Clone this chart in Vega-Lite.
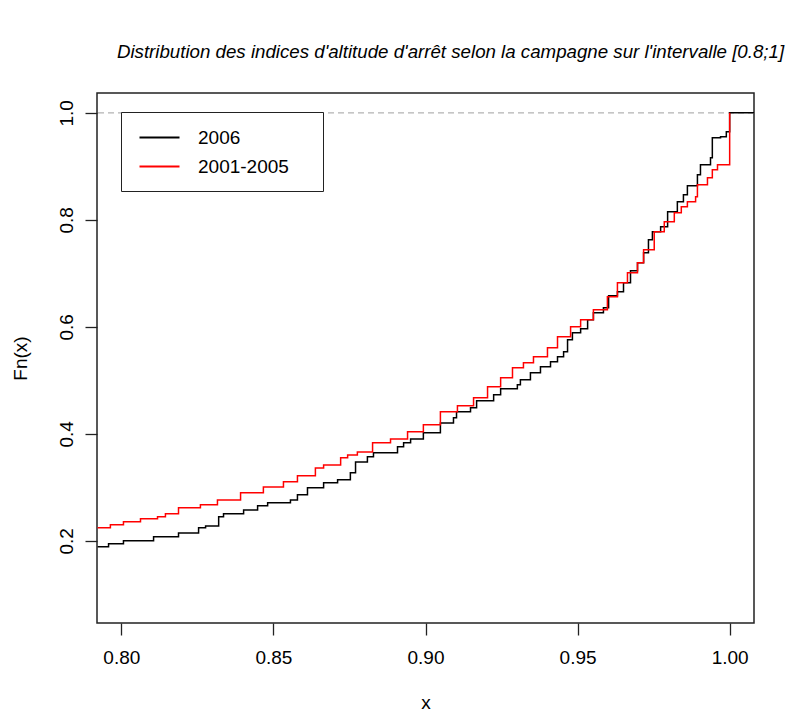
{
  "$schema": "https://vega.github.io/schema/vega-lite/v6.json",
  "width": 657,
  "height": 530,
  "autosize": {"type": "none"},
  "padding": {"left": 97, "top": 93, "right": 36, "bottom": 88},
  "background": "white",
  "title": {
    "text": "Distribution des indices d'altitude d'arrêt selon la campagne sur l'intervalle [0.8;1]",
    "font": "Liberation Sans",
    "fontSize": 18.7,
    "fontStyle": "italic",
    "fontWeight": "normal",
    "color": "black",
    "anchor": "middle",
    "baseline": "alphabetic",
    "offset": 16,
    "dx": 25
  },
  "datasets": {
    "ecdf": [
      {"series": "2006", "x": 0.7922, "Fn": 0.1888},
      {"series": "2006", "x": 0.7958, "Fn": 0.1944},
      {"series": "2006", "x": 0.8007, "Fn": 0.2000},
      {"series": "2006", "x": 0.8106, "Fn": 0.2075},
      {"series": "2006", "x": 0.8188, "Fn": 0.2149},
      {"series": "2006", "x": 0.8254, "Fn": 0.2243},
      {"series": "2006", "x": 0.8277, "Fn": 0.2280},
      {"series": "2006", "x": 0.8320, "Fn": 0.2449},
      {"series": "2006", "x": 0.8336, "Fn": 0.2505},
      {"series": "2006", "x": 0.8402, "Fn": 0.2579},
      {"series": "2006", "x": 0.8448, "Fn": 0.2654},
      {"series": "2006", "x": 0.8481, "Fn": 0.2710},
      {"series": "2006", "x": 0.8556, "Fn": 0.2766},
      {"series": "2006", "x": 0.8579, "Fn": 0.2860},
      {"series": "2006", "x": 0.8612, "Fn": 0.2991},
      {"series": "2006", "x": 0.8665, "Fn": 0.3084},
      {"series": "2006", "x": 0.8711, "Fn": 0.3140},
      {"series": "2006", "x": 0.8753, "Fn": 0.3271},
      {"series": "2006", "x": 0.8770, "Fn": 0.3476},
      {"series": "2006", "x": 0.8809, "Fn": 0.3570},
      {"series": "2006", "x": 0.8829, "Fn": 0.3645},
      {"series": "2006", "x": 0.8908, "Fn": 0.3757},
      {"series": "2006", "x": 0.8928, "Fn": 0.3832},
      {"series": "2006", "x": 0.8951, "Fn": 0.3906},
      {"series": "2006", "x": 0.8993, "Fn": 0.4019},
      {"series": "2006", "x": 0.9049, "Fn": 0.4205},
      {"series": "2006", "x": 0.9092, "Fn": 0.4299},
      {"series": "2006", "x": 0.9102, "Fn": 0.4411},
      {"series": "2006", "x": 0.9148, "Fn": 0.4486},
      {"series": "2006", "x": 0.9168, "Fn": 0.4617},
      {"series": "2006", "x": 0.9224, "Fn": 0.4729},
      {"series": "2006", "x": 0.9247, "Fn": 0.4841},
      {"series": "2006", "x": 0.9302, "Fn": 0.4916},
      {"series": "2006", "x": 0.9312, "Fn": 0.5009},
      {"series": "2006", "x": 0.9345, "Fn": 0.5140},
      {"series": "2006", "x": 0.9378, "Fn": 0.5252},
      {"series": "2006", "x": 0.9411, "Fn": 0.5346},
      {"series": "2006", "x": 0.9434, "Fn": 0.5439},
      {"series": "2006", "x": 0.9454, "Fn": 0.5533},
      {"series": "2006", "x": 0.9467, "Fn": 0.5757},
      {"series": "2006", "x": 0.9483, "Fn": 0.5888},
      {"series": "2006", "x": 0.9510, "Fn": 0.5963},
      {"series": "2006", "x": 0.9533, "Fn": 0.6131},
      {"series": "2006", "x": 0.9552, "Fn": 0.6262},
      {"series": "2006", "x": 0.9585, "Fn": 0.6355},
      {"series": "2006", "x": 0.9602, "Fn": 0.6579},
      {"series": "2006", "x": 0.9631, "Fn": 0.6654},
      {"series": "2006", "x": 0.9651, "Fn": 0.6822},
      {"series": "2006", "x": 0.9674, "Fn": 0.7047},
      {"series": "2006", "x": 0.9697, "Fn": 0.7196},
      {"series": "2006", "x": 0.9717, "Fn": 0.7383},
      {"series": "2006", "x": 0.9733, "Fn": 0.7626},
      {"series": "2006", "x": 0.9746, "Fn": 0.7776},
      {"series": "2006", "x": 0.9773, "Fn": 0.7869},
      {"series": "2006", "x": 0.9796, "Fn": 0.8149},
      {"series": "2006", "x": 0.9828, "Fn": 0.8336},
      {"series": "2006", "x": 0.9848, "Fn": 0.8467},
      {"series": "2006", "x": 0.9861, "Fn": 0.8635},
      {"series": "2006", "x": 0.9894, "Fn": 0.8841},
      {"series": "2006", "x": 0.9904, "Fn": 0.9028},
      {"series": "2006", "x": 0.9937, "Fn": 0.9159},
      {"series": "2006", "x": 0.9943, "Fn": 0.9533},
      {"series": "2006", "x": 0.9970, "Fn": 0.9551},
      {"series": "2006", "x": 0.9989, "Fn": 0.9645},
      {"series": "2006", "x": 1.0000, "Fn": 1.0},
      {"series": "2006", "x": 1.0080, "Fn": 1.0},
      {"series": "2001-2005", "x": 0.7922, "Fn": 0.2243},
      {"series": "2001-2005", "x": 0.7964, "Fn": 0.2299},
      {"series": "2001-2005", "x": 0.8007, "Fn": 0.2355},
      {"series": "2001-2005", "x": 0.8063, "Fn": 0.2411},
      {"series": "2001-2005", "x": 0.8119, "Fn": 0.2449},
      {"series": "2001-2005", "x": 0.8145, "Fn": 0.2505},
      {"series": "2001-2005", "x": 0.8188, "Fn": 0.2617},
      {"series": "2001-2005", "x": 0.8260, "Fn": 0.2673},
      {"series": "2001-2005", "x": 0.8316, "Fn": 0.2766},
      {"series": "2001-2005", "x": 0.8392, "Fn": 0.2897},
      {"series": "2001-2005", "x": 0.8467, "Fn": 0.3009},
      {"series": "2001-2005", "x": 0.8533, "Fn": 0.3103},
      {"series": "2001-2005", "x": 0.8579, "Fn": 0.3215},
      {"series": "2001-2005", "x": 0.8638, "Fn": 0.3364},
      {"series": "2001-2005", "x": 0.8665, "Fn": 0.3420},
      {"series": "2001-2005", "x": 0.8721, "Fn": 0.3551},
      {"series": "2001-2005", "x": 0.8744, "Fn": 0.3607},
      {"series": "2001-2005", "x": 0.8776, "Fn": 0.3663},
      {"series": "2001-2005", "x": 0.8826, "Fn": 0.3832},
      {"series": "2001-2005", "x": 0.8885, "Fn": 0.3906},
      {"series": "2001-2005", "x": 0.8941, "Fn": 0.4037},
      {"series": "2001-2005", "x": 0.8993, "Fn": 0.4168},
      {"series": "2001-2005", "x": 0.9049, "Fn": 0.4411},
      {"series": "2001-2005", "x": 0.9105, "Fn": 0.4523},
      {"series": "2001-2005", "x": 0.9158, "Fn": 0.4673},
      {"series": "2001-2005", "x": 0.9204, "Fn": 0.4878},
      {"series": "2001-2005", "x": 0.9247, "Fn": 0.5047},
      {"series": "2001-2005", "x": 0.9286, "Fn": 0.5234},
      {"series": "2001-2005", "x": 0.9322, "Fn": 0.5327},
      {"series": "2001-2005", "x": 0.9355, "Fn": 0.5439},
      {"series": "2001-2005", "x": 0.9401, "Fn": 0.5607},
      {"series": "2001-2005", "x": 0.9434, "Fn": 0.5813},
      {"series": "2001-2005", "x": 0.9477, "Fn": 0.6000},
      {"series": "2001-2005", "x": 0.9510, "Fn": 0.6131},
      {"series": "2001-2005", "x": 0.9552, "Fn": 0.6318},
      {"series": "2001-2005", "x": 0.9598, "Fn": 0.6561},
      {"series": "2001-2005", "x": 0.9631, "Fn": 0.6822},
      {"series": "2001-2005", "x": 0.9664, "Fn": 0.7009},
      {"series": "2001-2005", "x": 0.9697, "Fn": 0.7196},
      {"series": "2001-2005", "x": 0.9717, "Fn": 0.7439},
      {"series": "2001-2005", "x": 0.9752, "Fn": 0.7776},
      {"series": "2001-2005", "x": 0.9785, "Fn": 0.7963},
      {"series": "2001-2005", "x": 0.9818, "Fn": 0.8131},
      {"series": "2001-2005", "x": 0.9841, "Fn": 0.8243},
      {"series": "2001-2005", "x": 0.9861, "Fn": 0.8336},
      {"series": "2001-2005", "x": 0.9888, "Fn": 0.8430},
      {"series": "2001-2005", "x": 0.9894, "Fn": 0.8654},
      {"series": "2001-2005", "x": 0.9927, "Fn": 0.8785},
      {"series": "2001-2005", "x": 0.9943, "Fn": 0.8935},
      {"series": "2001-2005", "x": 0.9960, "Fn": 0.9028},
      {"series": "2001-2005", "x": 1.0000, "Fn": 1.0}
    ],
    "hline": [{"y": 1}]
  },
  "layer": [
    {
      "data": {"name": "hline"},
      "mark": {"type": "rule", "color": "#b3b3b3", "strokeWidth": 1.2, "strokeDash": [6, 4]},
      "encoding": {"y": {"field": "y", "type": "quantitative"}}
    },
    {
      "data": {"name": "ecdf"},
      "transform": [{"filter": "datum.series === '2006'"}],
      "mark": {"type": "line", "interpolate": "step-after", "strokeWidth": 1.5, "clip": true},
      "encoding": {
        "x": {
          "field": "x", "type": "quantitative",
          "scale": {"domain": [0.792, 1.008], "zero": false, "nice": false},
          "axis": {"title": "x", "values": [0.8, 0.85, 0.9, 0.95, 1.0], "format": ".2f", "labelPadding": 13, "titlePadding": 26}
        },
        "y": {
          "field": "Fn", "type": "quantitative",
          "scale": {"domain": [0.0465, 1.037], "zero": false, "nice": false},
          "axis": {"title": "Fn(x)", "values": [0.2, 0.4, 0.6, 0.8, 1.0], "format": ".1f", "labelAngle": -90, "labelAlign": "center", "labelBaseline": "bottom", "labelPadding": 9, "titlePadding": 27}
        },
        "color": {
          "field": "series", "type": "nominal",
          "scale": {"domain": ["2006", "2001-2005"], "range": ["black", "red"]},
          "legend": {
            "title": "\u00a0", "titleOrient": "right", "titlePadding": 20,
            "orient": "none", "legendX": 24, "legendY": 19,
            "encode": {"labels": {"update": {"dy": {"value": 2}}}}
          }
        }
      }
    },
    {
      "data": {"name": "ecdf"},
      "transform": [{"filter": "datum.series === '2001-2005'"}],
      "mark": {"type": "line", "interpolate": "step-after", "strokeWidth": 1.5, "clip": true},
      "encoding": {
        "x": {"field": "x", "type": "quantitative"},
        "y": {"field": "Fn", "type": "quantitative"},
        "color": {"field": "series", "type": "nominal"}
      }
    }
  ],
  "config": {
    "view": {"stroke": "#222", "strokeWidth": 1.5},
    "font": "Liberation Sans",
    "axis": {
      "domain": false,
      "grid": false,
      "tickColor": "#222",
      "tickSize": 12,
      "tickWidth": 1.3,
      "labelFont": "Liberation Sans",
      "labelFontSize": 19,
      "labelColor": "black",
      "titleFont": "Liberation Sans",
      "titleFontSize": 19,
      "titleFontWeight": "normal",
      "titleColor": "black"
    },
    "legend": {
      "strokeColor": "#222",
      "fillColor": "white",
      "padding": 14,
      "symbolType": "M0,0.4H8",
      "symbolSize": 100,
      "symbolStrokeWidth": 2.2,
      "symbolOffset": -5,
      "labelFont": "Liberation Sans",
      "labelFontSize": 19,
      "labelColor": "black",
      "labelOffset": 49,
      "rowPadding": 7,
      "titleFont": "Liberation Sans",
      "titleFontSize": 19,
      "titleFontWeight": "normal"
    }
  }
}
